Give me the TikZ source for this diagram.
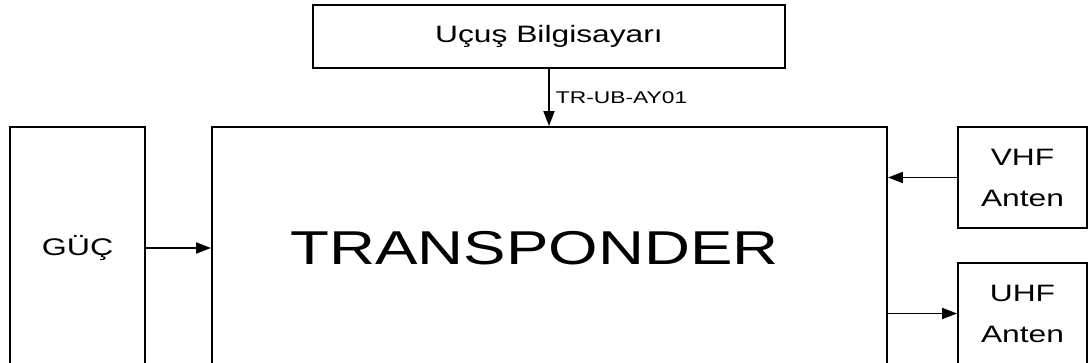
\documentclass[tikz,border=0pt]{standalone}
\usepackage{fontspec}
\usepackage{graphicx}
\setmainfont{Liberation Sans}
\usetikzlibrary{arrows.meta}
\newcommand{\wide}[1]{\scalebox{1.34}[1]{#1}}
\tikzset{
  box/.style={draw=black, line width=1.9pt, fill=white, inner sep=0pt, rectangle},
  link/.style={draw=black, line width=1.9pt, -{Triangle[length=15pt,width=11pt]}},
  lbl/.style={inner sep=0pt, font=\fontsize{17}{20}\selectfont}
}
\begin{document}
\begin{tikzpicture}[x=1pt, y=-1pt]
  \clip (0,0) rectangle (1089,363);
  \fill[white] (0,0) rectangle (1089,363);

  % blocks
  \node[box, minimum width=472pt, minimum height=63pt,
        font=\fontsize{23.7}{28}\selectfont] (ucus) at (549,36.5) {\wide{Uçuş Bilgisayarı}};
  \node[box, minimum width=675pt, minimum height=242pt] (trans) at (549.5,248) {};
  \node[inner sep=0pt, font=\fontsize{47.5}{56}\selectfont] (transtxt)
        at ([xshift=-15pt]trans.center) {\wide{TRANSPONDER}};
  \node[box, minimum width=135pt, minimum height=242pt,
        font=\fontsize{24}{29}\selectfont] (guc) at (77.5,248) {\wide{GÜÇ}};
  \node[box, minimum width=129pt, minimum height=101pt,
        font=\fontsize{23.7}{41}\selectfont] (vhf) at (1022.5,177.5)
        {\wide{\begin{tabular}{@{}c@{}}VHF\\Anten\end{tabular}}};
  \node[box, minimum width=129pt, minimum height=101pt,
        font=\fontsize{23.7}{41}\selectfont] (uhf) at (1022.5,313.5)
        {\wide{\begin{tabular}{@{}c@{}}UHF\\Anten\end{tabular}}};

  % connections
  \draw[link] (ucus.south) -- (ucus.south |- trans.north)
    node[midway, right, lbl, xshift=6pt] (busid) {\wide{TR-UB-AY01}};
  \draw[link] (guc.east) -- (guc.east -| trans.west);
  \draw[link] (vhf.west) -- (vhf.west -| trans.east);
  \draw[link] (uhf.west -| trans.east) -- (uhf.west);
\end{tikzpicture}
\end{document}
